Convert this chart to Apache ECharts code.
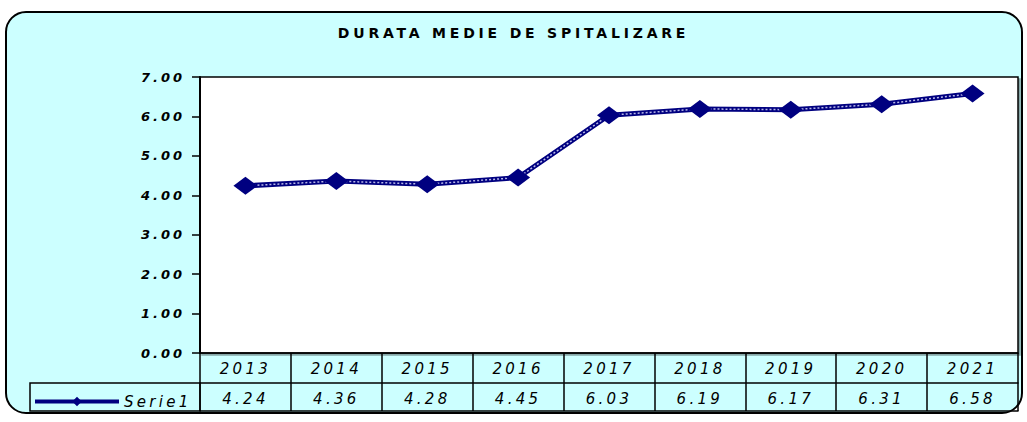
<!DOCTYPE html>
<html>
<head>
<meta charset="utf-8">
<script src="https://cdn.jsdelivr.net/npm/echarts@6/dist/echarts.min.js"></script>
<style>
  html, body { margin: 0; padding: 0; background: #fff; }
  #chart { width: 1027px; height: 422px; }
  /* the original uses a stretched font, spread the letters a bit to match */
  #chart svg text[style*="13px"] { letter-spacing: 3px; }
  #chart svg text[style*="14px"] { letter-spacing: 3.8px; }
  #chart svg text[style*="15px"] { letter-spacing: 3.3px; }
</style>
</head>
<body>
<div id="chart"></div>
<script>
// data
const years = ['2013', '2014', '2015', '2016', '2017', '2018', '2019', '2020', '2021'];
const durata = [4.24, 4.36, 4.28, 4.45, 6.03, 6.19, 6.17, 6.31, 6.58];
const yMin = 0;
const yMax = 7;
const yStep = 1;
const titlu = 'DURATA MEDIE DE SPITALIZARE';
const serieName = 'Serie1';

const font = 'DejaVu Sans, sans-serif';
const navy = '#000080';

const chart = echarts.init(document.getElementById('chart'), null, { renderer: 'svg' });

chart.setOption({
    animation: false,
    title: {
        text: titlu,
        left: 'center',
        top: 21,
        textStyle: { fontFamily: font, fontSize: 14, fontWeight: 'bold', color: '#000' }
    },
    graphic: [
        {
            // rounded frame behind everything
            type: 'rect',
            z: -100,
            shape: { x: 6, y: 12, width: 1016, height: 401, r: 20 },
            style: { fill: '#ccffff', stroke: '#000', lineWidth: 2 }
        },
        {
            // legend cell of the data table
            type: 'rect',
            z: 100,
            shape: { x: 30, y: 383, width: 170, height: 28 },
            style: { fill: 'none', stroke: '#000', lineWidth: 1.5 }
        }
    ],
    legend: {
        data: [serieName],
        left: 28,
        top: 389,
        itemWidth: 84,
        itemHeight: 12,
        itemGap: 6,
        lineStyle: { width: 4 },
        textStyle: { fontFamily: font, fontSize: 15, fontStyle: 'italic', color: '#000' }
    },
    grid: {
        left: 200,
        right: 9,
        top: 77,
        bottom: 69,
        show: true,
        backgroundColor: '#fff',
        borderColor: '#000',
        borderWidth: 1.5,
        shadowColor: 'rgba(0,0,0,0.35)',
        shadowOffsetX: 2,
        shadowOffsetY: 2
    },
    xAxis: [
        {
            type: 'category',
            data: years,
            boundaryGap: true,
            axisLine: { lineStyle: { color: '#000', width: 1.5 } },
            axisTick: { show: true, length: 30, alignWithLabel: false, lineStyle: { color: '#000', width: 1.5 } },
            axisLabel: { margin: 8, fontFamily: font, fontSize: 15, fontStyle: 'italic', color: '#000' }
        },
        {
            type: 'category',
            data: durata.map(v => v.toFixed(2)),
            position: 'bottom',
            offset: 30,
            boundaryGap: true,
            axisLine: { lineStyle: { color: '#000', width: 1.5 } },
            axisTick: { show: true, length: 28, alignWithLabel: false, lineStyle: { color: '#000', width: 1.5 } },
            axisLabel: { margin: 8, fontFamily: font, fontSize: 15, fontStyle: 'italic', color: '#000' }
        },
        {
            type: 'category',
            data: years,
            position: 'bottom',
            offset: 58,
            axisLine: { lineStyle: { color: '#000', width: 1.5 } },
            axisTick: { show: false },
            axisLabel: { show: false }
        }
    ],
    yAxis: {
        type: 'value',
        min: yMin,
        max: yMax,
        interval: yStep,
        axisLine: { show: true, lineStyle: { color: '#000', width: 2 } },
        axisTick: { show: true, length: 8, lineStyle: { color: '#000', width: 1.5 } },
        splitLine: { show: false },
        axisLabel: {
            margin: 15,
            fontFamily: font,
            fontSize: 13,
            fontWeight: 'bold',
            fontStyle: 'italic',
            color: '#000',
            formatter: v => v.toFixed(2)
        }
    },
    series: [
        {
            name: serieName,
            type: 'line',
            data: durata,
            z: 2,
            symbol: 'diamond',
            symbolSize: [24, 18],
            showSymbol: false,
            itemStyle: { color: navy },
            lineStyle: { color: navy, width: 5 }
        },
        {
            // light patterned core of the line
            name: 'pattern',
            type: 'line',
            data: durata,
            z: 3,
            showSymbol: false,
            silent: true,
            lineStyle: { color: '#b8b8e8', width: 1.5, type: [2, 2] }
        },
        {
            name: 'marks',
            type: 'line',
            data: durata,
            z: 4,
            symbol: 'diamond',
            symbolSize: [24, 18],
            itemStyle: { color: navy },
            lineStyle: { width: 0, opacity: 0 }
        }
    ]
});
</script>
</body>
</html>
